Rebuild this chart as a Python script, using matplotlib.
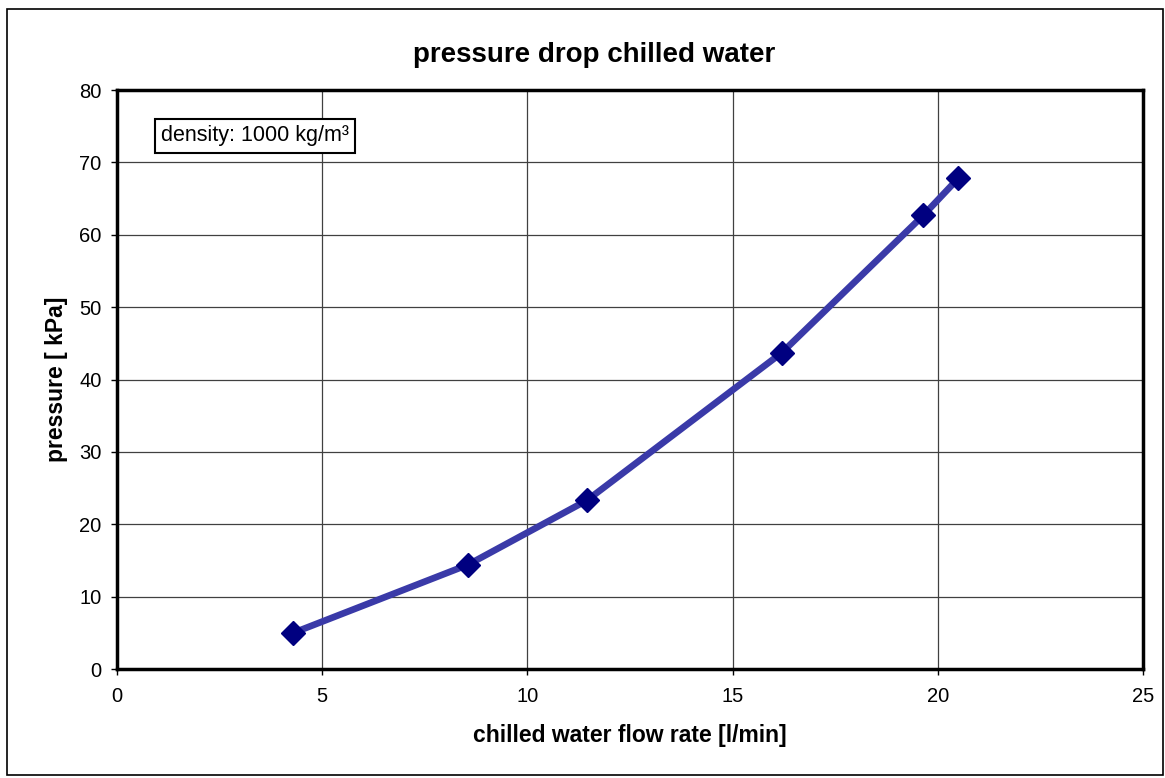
import matplotlib.pyplot as plt
import matplotlib.patches as patches

plt.rcParams['font.family'] = ['Liberation Sans', 'DejaVu Sans']

# data
flow = [4.3, 8.55, 11.45, 16.2, 19.65, 20.5]
pressure = [5.0, 14.4, 23.3, 43.7, 62.7, 67.8]
x_ticks = [0, 5, 10, 15, 20, 25]
y_ticks = [0, 10, 20, 30, 40, 50, 60, 70, 80]

fig = plt.figure(figsize=(11.65, 7.78), dpi=100)
ax = fig.add_axes([0.1004, 0.1401, 0.8807, 0.7442])

# frame around the whole chart
fig.patches.append(patches.Rectangle((0.006, 0.004), 0.992, 0.985, transform=fig.transFigure,
                                     fill=False, edgecolor='black', linewidth=1.2))

ax.plot(flow, pressure, color='#3a3aa8', linewidth=4.8, solid_capstyle='butt', zorder=3)
ax.plot(flow, pressure, linestyle='none', marker='D', markersize=12,
        color='#000080', markeredgecolor='#000080', zorder=4)

ax.set_xlim(0, 25)
ax.set_ylim(0, 80)
ax.set_xticks(x_ticks)
ax.set_yticks(y_ticks)
ax.tick_params(labelsize=14.5, length=4, width=1, direction='out')
ax.tick_params(axis='x', pad=9)
ax.tick_params(axis='y', pad=7)
ax.grid(True, color='#404040', linewidth=0.9)
ax.set_axisbelow(True)
for s in ax.spines.values():
    s.set_linewidth(2.5)

# title sits a bit left of the plot centre, as in the original
fig.text(0.51, 0.929, 'pressure drop chilled water', fontsize=20, fontweight='bold',
         ha='center', va='center')
ax.set_xlabel('chilled water flow rate [l/min]', fontsize=16.5, fontweight='bold', labelpad=13)
ax.set_ylabel('pressure [ kPa]', fontsize=16.5, fontweight='bold', labelpad=8)

ax.text(0.043, 0.921, 'density: 1000 kg/m³', transform=ax.transAxes, fontsize=15.5,
        va='center', ha='left',
        bbox=dict(boxstyle='square,pad=0.3', facecolor='white', edgecolor='black', linewidth=1.5))

fig.savefig('out.png', dpi=100)
